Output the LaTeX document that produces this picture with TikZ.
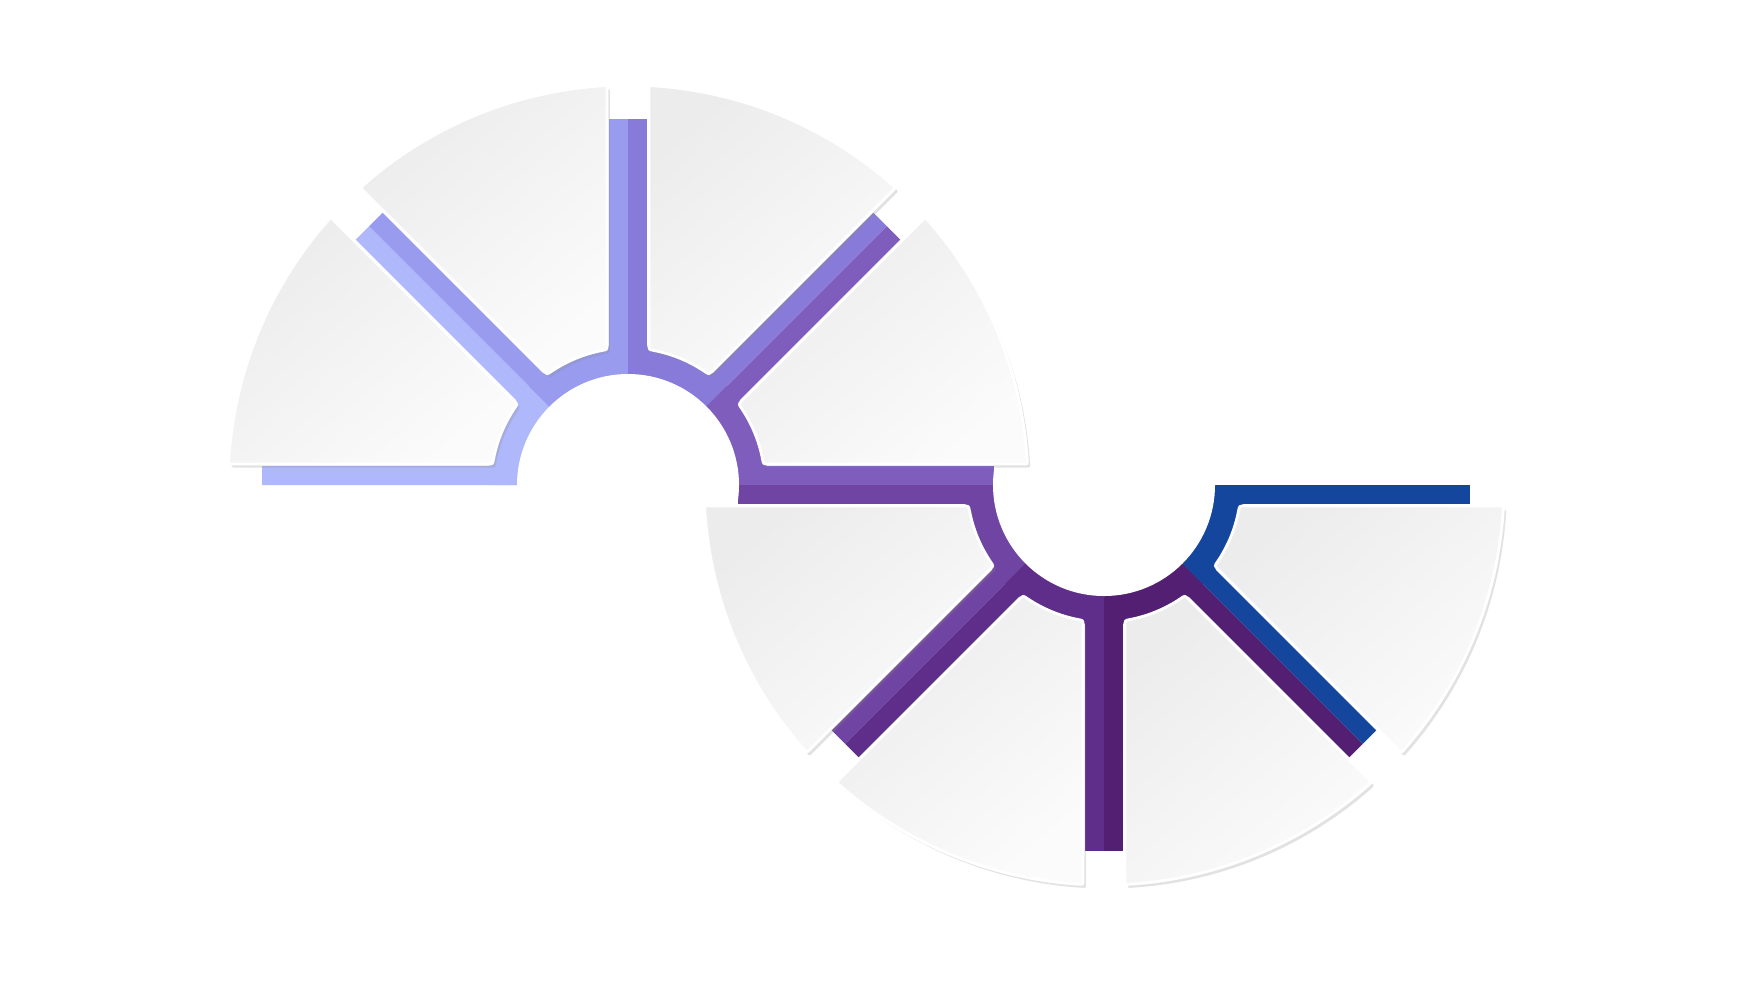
\documentclass[tikz,border=0pt]{standalone}
\usepackage{xcolor}
\definecolor{ringA}{HTML}{AFB8FB}
\definecolor{ringB}{HTML}{989BEE}
\definecolor{ringC}{HTML}{887AD8}
\definecolor{ringD}{HTML}{7E5DBD}
\definecolor{ringE}{HTML}{7044A3}
\definecolor{ringF}{HTML}{5F2D8A}
\definecolor{ringG}{HTML}{521F72}
\definecolor{ringH}{HTML}{15469D}
\definecolor{paper}{HTML}{ECECEC}
\definecolor{paperlight}{HTML}{FBFBFB}
\usepackage{tikz}
\usetikzlibrary{shadows, calc}

\begin{document}
\begin{tikzpicture}[
  band/.style={fill=#1},
  card/.style={draw=white, line width=0.8pt,
    top color=paper, bottom color=paperlight, shading angle=40,
    drop shadow={shadow xshift=0.8pt, shadow yshift=-1pt,
      opacity=0.25, fill=black!45}}
]
  \useasboundingbox (0,0) rectangle (17.42,9.80);

  % coloured ring and spokes, one wedge for each card
  \foreach \cx/\a/\b/\col in {6.28/135/180/ringA, 6.28/90/135/ringB,
      6.28/45/90/ringC, 6.28/0/45/ringD, 11.04/180/225/ringE,
      11.04/225/270/ringF, 11.04/270/315/ringG, 11.04/315/360/ringH} {
    \begin{scope}[shift={(\cx,4.95)}]
      \clip (0,0) -- (\a:4.2) arc[start angle=\a, end angle=\b, radius=4.2] -- cycle;
      \fill[band=\col] (0,0) circle[radius=1.40];
      \fill[band=\col, rotate=\a] (0,-0.19) rectangle (3.66,0.19);
      \fill[band=\col, rotate=\b] (0,-0.19) rectangle (3.66,0.19);
    \end{scope}
  }
  \fill[white] (6.28,4.95) circle[radius=1.11] (11.04,4.95) circle[radius=1.11];

  % the eight cards, corners rounded by hand
  \foreach \cx/\a/\b in {6.28/135/180, 6.28/90/135, 6.28/45/90, 6.28/0/45,
      11.04/180/225, 11.04/225/270, 11.04/270/315, 11.04/315/360} {
    \pgfmathsetmacro\oa{\a+3.01}
    \pgfmathsetmacro\ob{\b-3.01}
    \pgfmathsetmacro\ia{\a+8.82}
    \pgfmathsetmacro\ib{\b-8.82}
    \begin{scope}[shift={(\cx,4.95)}]
      \path[card] (\ob-0.6:4.00) arc[start angle=\ob-0.6, end angle=\oa+0.6, radius=4.00]
        .. controls (\oa:4.00) .. ($(\oa:4.00)!0.04cm!(\ia:1.37)$)
        -- ($(\ia:1.37)!0.05cm!(\oa:4.00)$) .. controls (\ia:1.37) .. (\ia+2.1:1.37)
        arc[start angle=\ia+2.1, end angle=\ib-2.1, radius=1.37]
        .. controls (\ib:1.37) .. ($(\ib:1.37)!0.05cm!(\ob:4.00)$)
        -- ($(\ob:4.00)!0.04cm!(\ib:1.37)$) .. controls (\ob:4.00) .. (\ob-0.6:4.00)
        -- cycle;
    \end{scope}
  }
\end{tikzpicture}
\end{document}
